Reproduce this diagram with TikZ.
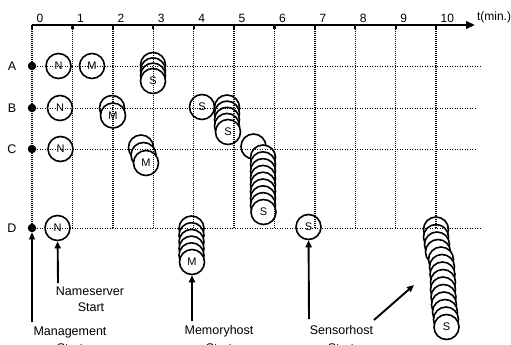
\documentclass[tikz,border=0pt]{standalone}
\usepackage{fontspec}
\setmainfont{Liberation Sans}
\usetikzlibrary{arrows.meta}
\begin{document}
\begin{tikzpicture}[x=1pt,y=-1pt,
  proc/.style={circle,draw,line width=1.6pt,fill=white,minimum size=25pt,inner sep=0pt,font=\fontsize{11}{11}\selectfont},
  rowdot/.style={circle,fill=black,minimum size=8.5pt,inner sep=0pt},
  rowlbl/.style={font=\fontsize{12.5}{12.5}\selectfont},
  ticklbl/.style={font=\fontsize{12}{12}\selectfont,anchor=west,inner sep=0pt},
  txt/.style={font=\fontsize{12.5}{14}\selectfont,inner sep=0pt},
  vgrid/.style={line width=1.4pt,dash pattern=on 0.9pt off 1.1pt},
  hgrid/.style={line width=0.9pt,dash pattern=on 0.9pt off 1.6pt},
  axisline/.style={line width=2.2pt,-{Triangle[length=9pt,width=7.5pt]}},
  pointer/.style={line width=1.9pt,-{Triangle[length=7pt,width=6pt]}}
]
\useasboundingbox (0,0) rectangle (511,345);

% time axis coordinates and labels
\foreach \i in {0,...,10} {
  \pgfmathsetmacro\xx{32+40.4*\i}
  \coordinate (t\i) at (\xx,25);
  \node[ticklbl] (tl\i) at (\xx+4.5,18) {\i};
}
\node[font=\fontsize{12}{12}\selectfont,inner sep=0pt] (tlab) at (494,17) {t(min.)};

% row labels and dots
\node[rowlbl] (lA) at (12,66) {A};
\node[rowlbl] (lB) at (12,108) {B};
\node[rowlbl] (lC) at (12,149) {C};
\node[rowlbl] (lD) at (12,228) {D};
\node[rowdot] (dA) at (32,66) {};
\node[rowdot] (dB) at (32,108) {};
\node[rowdot] (dC) at (32,149) {};
\node[rowdot] (dD) at (32,228) {};
\coordinate (eA) at (480,66);
\coordinate (eB) at (477,108);
\coordinate (eC) at (477,149);
\coordinate (eD) at (481,228);

% ---- row A
\node[proc] (aN) at (58.5,66) {N};
\node[proc] (aM) at (92,66) {M};
\foreach \y [count=\k] in {65,70.3,75.6} \node[proc] (aS\k) at (153,\y) {};
\node[proc] (aS) at (153,81) {S};

% ---- row B
\node[proc] (bN) at (60,108) {N};
\node[proc] (bM1) at (112,108) {};
\node[proc] (bM) at (113,115.5) {M};
\node[proc] (bS) at (202,107) {S};
\foreach \y [count=\k] in {107.5,113.6,119.8,125.9} \node[proc] (bT\k) at (227,\y) {};
\node[proc] (bT) at (228,132) {S};

% ---- row C
\node[proc] (cN) at (60.5,149) {N};
\node[proc] (cM1) at (141,147.5) {};
\node[proc] (cM2) at (143.5,155) {};
\node[proc] (cM) at (146,163) {M};
\node[proc] (cS0) at (253.5,146.5) {};
\foreach \k in {1,...,8} {
  \pgfmathsetmacro\yy{157.5+6.8*(\k-1)}
  \node[proc] (cS\k) at (263,\yy) {};
}
\node[proc] (cS) at (263.5,212) {S};

% ---- row D
\node[proc] (dN) at (57.5,228) {N};
\foreach \y [count=\k] in {228.5,235.2,241.9,248.6,255.3} \node[proc] (dM\k) at (191.5,\y) {};
\node[proc] (dM) at (192,262) {M};
\node[proc] (dS) at (308.5,227) {S};
\foreach \x/\y [count=\k] in {436/229.5,436/237,437/244.5,438/252,441/259.5,442/267,442.5/274.5,443/282,443/289.5,443.5/297,444/304.5,445/312,446/319.5}
  \node[proc] (dT\k) at (\x,\y) {};
\node[proc] (dT) at (446.5,327) {S};

% ---- grid (drawn over the circles)
\foreach \i in {0,...,10} \draw[vgrid] (t\i) -- (t\i |- dD.center);
\draw[hgrid] (dA.center) -- (eA);
\draw[hgrid] (dB.center) -- (eB);
\draw[hgrid] (dC.center) -- (eC);
\draw[hgrid] (dD.center) -- (eD);

% ---- axis
\draw[axisline] (t0) -- (475,25);
\foreach \i in {0,...,10} \draw[line width=2.2pt] (t\i) -- ++(0,4);

% ---- annotations
\node[txt] (mgmt) at (70,332) {Management};
\node[txt] (mgmtS) at (70,348) {Start};
\node[txt] (ns) at (90,291) {Nameserver};
\node[txt] (nsS) at (91,307.5) {Start};
\node[txt] (mem) at (219,331) {Memoryhost};
\node[txt] (memS) at (219,348) {Start};
\node[txt] (sens) at (341.5,330) {Sensorhost};
\node[txt] (sensS) at (341,348) {Start};

\coordinate (mgmtTail) at (32,322);
\coordinate (nsTail) at (58,283);
\coordinate (memTail) at (192,321);
\coordinate (sensTail) at (309,319);
\coordinate (diagTail) at (374,320);
\coordinate (diagHead) at (414,285);

\draw[pointer] (mgmtTail) -- (dD);
\draw[pointer] (nsTail) -- (dN);
\draw[pointer] (memTail) -- (dM);
\draw[pointer] (sensTail) -- (dS);
\draw[pointer] (diagTail) -- (diagHead);
\end{tikzpicture}
\end{document}
